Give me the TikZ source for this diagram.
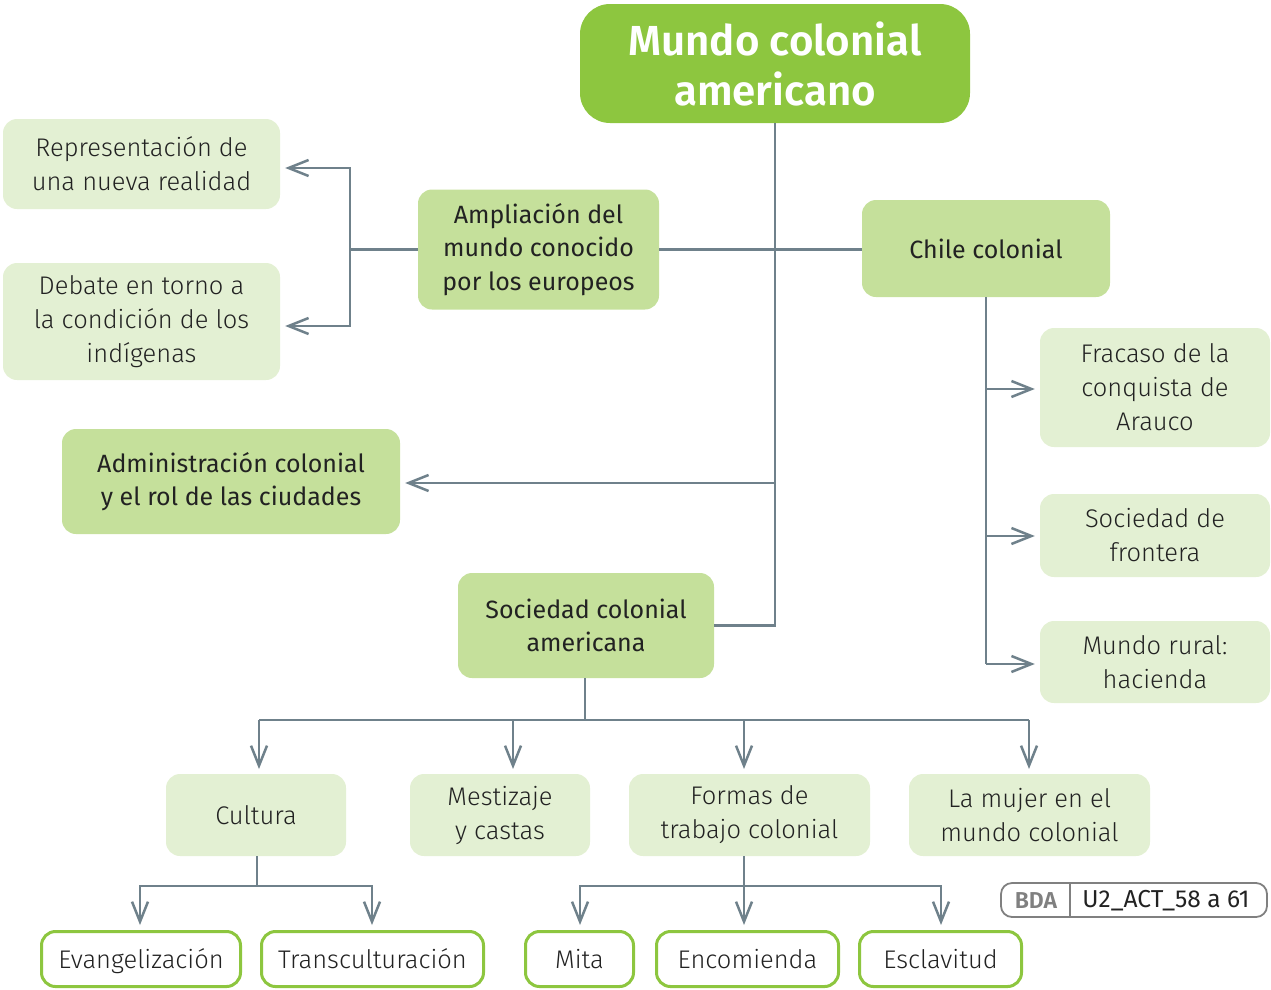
\documentclass[tikz,border=0pt]{standalone}
\usepackage{fontspec}
\setmainfont{Fira Sans Light}[BoldFont={Fira Sans}]
\newfontfamily\titlefont{Fira Sans SemiBold}
\newfontfamily\regfont{Fira Sans}
\usetikzlibrary{arrows.meta}
\definecolor{gTitle}{HTML}{8DC63F}
\definecolor{gMid}{HTML}{C5E09B}
\definecolor{gLight}{HTML}{E3F0D3}
\definecolor{gLine}{HTML}{6F818B}
\definecolor{txt}{HTML}{222222}
\definecolor{bdaGray}{HTML}{808080}
\begin{document}
\begin{tikzpicture}[x=1pt,y=-1pt,
  base/.style={align=center,inner sep=0pt,text=txt,font=\fontsize{25.5}{34}\selectfont},
  titlebox/.style={base,fill=gTitle,rounded corners=30pt,text=white,font=\titlefont\fontsize{42}{50}\selectfont},
  midbox/.style={base,fill=gMid,rounded corners=14pt,font=\regfont\fontsize{25}{33.5}\selectfont},
  lightbox/.style={base,fill=gLight,rounded corners=14pt},
  leafbox/.style={base,draw=gTitle,line width=3pt,fill=white,rounded corners=14pt,text height=21pt,text depth=2pt},
  conn/.style={draw=gLine,line width=2.5pt},
  arr/.style={conn,-{Straight Barb[length=20pt,width=16pt,line width=2.5pt]},shorten >=5pt},
]
\useasboundingbox (0,0) rectangle (1271,989);
% nodes
\node[titlebox,minimum width=390pt,minimum height=119pt] (title) at (775,63.5) {Mundo colonial\\americano};
\node[midbox,minimum width=241pt,minimum height=120pt] (ampl) at (538.5,249.5) {Ampliación del\\mundo conocido\\por los europeos};
\node[midbox,minimum width=248pt,minimum height=97pt] (chile) at (986,248.5) {Chile colonial};
\node[lightbox,minimum width=277pt,minimum height=90pt] (rep) at (141.5,164) {Representación de\\una nueva realidad};
\node[lightbox,minimum width=277pt,minimum height=117pt] (deb) at (141.5,321.5) {Debate en torno a\\la condición de los\\indígenas};
\node[midbox,minimum width=338pt,minimum height=105pt] (admin) at (231,481.5) {Administración colonial\\y el rol de las ciudades};
\node[midbox,minimum width=256pt,minimum height=105pt] (soc) at (586,625.5) {Sociedad colonial\\americana};
\node[lightbox,minimum width=230pt,minimum height=119pt] (fra) at (1155,387.5) {Fracaso de la\\conquista de\\Arauco};
\node[lightbox,minimum width=230pt,minimum height=83pt] (fro) at (1155,535.5) {Sociedad de\\frontera};
\node[lightbox,minimum width=230pt,minimum height=82pt] (rur) at (1155,662) {Mundo rural:\\hacienda};
\node[lightbox,minimum width=180pt,minimum height=82pt] (cul) at (256,815) {Cultura};
\node[lightbox,minimum width=180pt,minimum height=82pt] (mes) at (500,815) {Mestizaje\\y castas};
\node[lightbox,minimum width=241pt,minimum height=82pt] (for) at (749.5,815) {Formas de\\trabajo colonial};
\node[lightbox,minimum width=241pt,minimum height=82pt] (muj) at (1029.5,815) {La mujer en el\\mundo colonial};
\node[leafbox,minimum width=199pt,minimum height=55pt] (eva) at (141,959) {Evangelización};
\node[leafbox,minimum width=222pt,minimum height=55pt] (tra) at (372.5,959) {Transculturación};
\node[leafbox,minimum width=108pt,minimum height=55pt] (mit) at (579.5,959) {Mita};
\node[leafbox,minimum width=182pt,minimum height=55pt] (enc) at (747.5,959) {Encomienda};
\node[leafbox,minimum width=162pt,minimum height=55pt] (esc) at (940.5,959) {Esclavitud};
% badge
\node[draw=bdaGray,line width=1.8pt,rounded corners=11pt,minimum width=266pt,minimum height=34pt,inner sep=0pt] (bda) at (1134,900) {};
\draw[bdaGray,line width=1.4pt] (1070,883) -- (1070,917);
\node[font=\titlefont\fontsize{23}{24}\selectfont,text=bdaGray,inner sep=0pt] (bdal) at (1036,901) {BDA};
\node[font=\regfont\fontsize{24.5}{26}\selectfont,text=txt,inner sep=0pt] (bdar) at (1166,901) {U2\_ACT\_58 a 61};
% connectors
\coordinate (j1) at (775,483);
\draw[conn] (title.south) |- (soc.east);
\draw[conn] (ampl.east) -- (ampl.east -| chile.west);
\draw[arr] (j1) -- (admin.east |- j1);
\coordinate (ja) at (350,249.5);
\draw[conn] (ampl.west) -- (ja);
\draw[arr] (ja) |- ([yshift=-4pt]rep.east);
\draw[arr] (ja) |- ([yshift=-4.5pt]deb.east);
\coordinate (jc) at (986,664);
\draw[conn] (chile.south) -- (jc);
\draw[arr] (chile.south |- 0,389) -- (fra.west |- 0,389);
\draw[arr] (chile.south |- 0,536) -- (fro.west |- 0,536);
\draw[arr] (jc) -- (rur.west |- jc);
\coordinate (js) at (585,720);
\draw[conn] (soc.south -| js) -- (js);
\draw[conn] (259,720) -- (1029,720);
\draw[arr] (259,720) -- (259,774);
\draw[arr] (513,720) -- (513,774);
\draw[arr] (744,720) -- (744,774);
\draw[arr] (1029,720) -- (1029,774);
\coordinate (jcu) at (257,886);
\draw[conn] (cul.south -| jcu) -- (jcu);
\draw[arr] (jcu) -| (eva.north -| 140,0);
\draw[arr] (jcu) -| (tra.north -| 372,0);
\coordinate (jfo) at (744,886);
\draw[conn] (for.south -| jfo) -- (jfo);
\draw[arr] (jfo) -| (mit.north -| 580,0);
\draw[arr] (jfo) -- (enc.north -| jfo);
\draw[arr] (jfo) -| (esc.north -| 941,0);
\end{tikzpicture}
\end{document}
